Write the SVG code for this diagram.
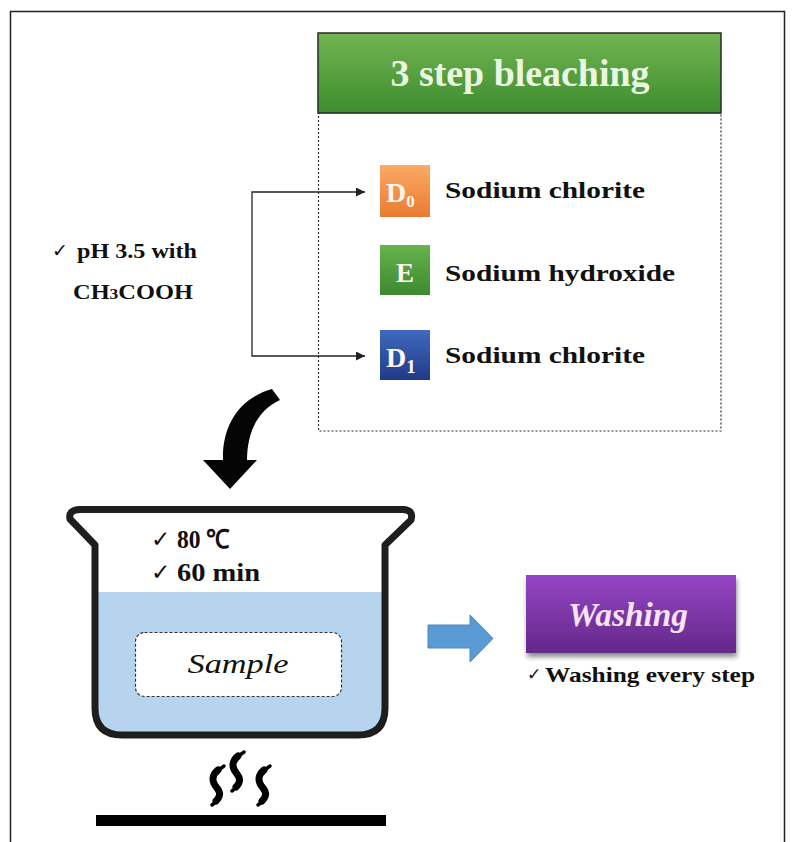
<svg xmlns="http://www.w3.org/2000/svg" width="793" height="842" viewBox="0 0 793 842">
  <style>
    .serif { font-family: "Liberation Serif", "Times New Roman", serif; }
    .bold { font-weight: bold; }
    .lbl { font-family: "Liberation Serif", "Times New Roman", serif; font-weight: bold; fill: #111; }
    .chk { font-family: "DejaVu Sans", sans-serif; fill: #111; }
    .conn { fill: none; stroke: #222; stroke-width: 1.3; }
    .badgeTxt { font-family: "Liberation Serif", "Times New Roman", serif; font-weight: bold; fill: #fff6ee; }
  </style>
  <defs>
    <linearGradient id="gHead" x1="0" y1="0" x2="0" y2="1">
      <stop offset="0" stop-color="#72b452"/>
      <stop offset="1" stop-color="#3e8d2e"/>
    </linearGradient>
    <linearGradient id="gOrange" x1="0" y1="0" x2="0" y2="1">
      <stop offset="0" stop-color="#fbaa66"/>
      <stop offset="1" stop-color="#ea7a30"/>
    </linearGradient>
    <linearGradient id="gGreen" x1="0" y1="0" x2="0" y2="1">
      <stop offset="0" stop-color="#66b24c"/>
      <stop offset="1" stop-color="#3d8a2f"/>
    </linearGradient>
    <linearGradient id="gBlue" x1="0" y1="0" x2="0" y2="1">
      <stop offset="0" stop-color="#4169bd"/>
      <stop offset="1" stop-color="#1f3b88"/>
    </linearGradient>
    <linearGradient id="gPurple" x1="0" y1="0" x2="0" y2="1">
      <stop offset="0" stop-color="#9545c4"/>
      <stop offset="1" stop-color="#64288a"/>
    </linearGradient>
    <filter id="shadow" x="-10%" y="-10%" width="120%" height="140%">
      <feGaussianBlur in="SourceAlpha" stdDeviation="2.5"/>
      <feOffset dx="1" dy="4"/>
      <feComponentTransfer><feFuncA type="linear" slope="0.45"/></feComponentTransfer>
      <feMerge><feMergeNode/><feMergeNode in="SourceGraphic"/></feMerge>
    </filter>
    <marker id="tri" viewBox="0 0 10 10" refX="10" refY="5" markerWidth="9" markerHeight="9" markerUnits="userSpaceOnUse" orient="auto">
      <path d="M0 0 L10 5 L0 10 Z" fill="#222"/>
    </marker>
    <!-- one rising heat wave, tapered: thin full stroke plus a thick middle -->
    <g id="wave">
      <path d="M0 0 C-12 8 -13 15 -7 22 C-2 29 -5 34 -12 39" fill="none" stroke="#000" stroke-width="3.5" stroke-linecap="round"/>
      <path d="M-6 4 C-12 9 -13 15 -7 22 C-3 27 -4 31 -8 35" fill="none" stroke="#000" stroke-width="7" stroke-linecap="round"/>
    </g>
  </defs>

  <rect width="793" height="842" fill="#ffffff"/>

  <!-- outer frame -->
  <path d="M10.5 842 V11.5 H784.5 V842" fill="none" stroke="#222" stroke-width="1.5"/>

  <!-- bleaching panel -->
  <g id="bleaching">
    <rect x="318.5" y="113" width="402.5" height="318" fill="#fff" stroke="#333" stroke-width="1.2" stroke-dasharray="2 2"/>
    <rect x="318" y="33" width="403" height="80" fill="url(#gHead)" stroke="#2a2a2a" stroke-width="1.5"/>
    <text class="serif bold" x="520" y="86" font-size="38" fill="#eaf6e2" text-anchor="middle" textLength="259" lengthAdjust="spacingAndGlyphs">3 step bleaching</text>
  </g>

  <g id="step-d0">
    <rect x="380" y="165" width="50" height="52" fill="url(#gOrange)"/>
    <text class="badgeTxt" x="386" y="202" font-size="28">D<tspan font-size="17" dy="5">0</tspan></text>
    <text class="lbl" x="445" y="198" font-size="24" textLength="200" lengthAdjust="spacingAndGlyphs">Sodium chlorite</text>
  </g>

  <g id="step-e">
    <rect x="380" y="245" width="50" height="50" fill="url(#gGreen)"/>
    <text class="badgeTxt" x="405" y="282" font-size="27" text-anchor="middle">E</text>
    <text class="lbl" x="445" y="281" font-size="24" textLength="230" lengthAdjust="spacingAndGlyphs">Sodium hydroxide</text>
  </g>

  <g id="step-d1">
    <rect x="380" y="330" width="50" height="50" fill="url(#gBlue)"/>
    <text class="badgeTxt" x="386" y="367" font-size="28">D<tspan font-size="19" dy="6">1</tspan></text>
    <text class="lbl" x="445" y="363" font-size="24" textLength="200" lengthAdjust="spacingAndGlyphs">Sodium chlorite</text>
  </g>

  <g id="ph-note">
    <text class="chk" x="52" y="257" font-size="19">✓</text>
    <text class="lbl" x="77" y="258" font-size="21" textLength="120" lengthAdjust="spacingAndGlyphs">pH 3.5 with</text>
    <text class="lbl" x="73" y="299" font-size="21" textLength="120" lengthAdjust="spacingAndGlyphs">CH<tspan font-size="15">3</tspan>COOH</text>
  </g>

  <!-- connectors -->
  <g id="connectors">
    <path class="conn" d="M252 274 V192 H365" marker-end="url(#tri)"/>
    <path class="conn" d="M252 274 V356 H365" marker-end="url(#tri)"/>
    <!-- curved drop arrow into the beaker -->
    <path d="M272 389 C240 398 222 425 223 460 L203 460 L230 489 L257 460 L247 460 C247 432 258 410 280 400 Z" fill="#050505"/>
    <!-- arrow to washing -->
    <path d="M428 625 H470 V615 L493 638.5 L470 662 V648 H428 Z" fill="#5b9bd5" stroke="#4a86c0" stroke-width="1"/>
  </g>

  <!-- beaker -->
  <g id="beaker">
    <path d="M98 592 H382 V710 Q382 732 360 732 H120 Q98 732 98 710 Z" fill="#b7d4ef"/>
    <path d="M70 519 Q68 510 80 509.5 H403 Q414 510 411 520 L385 545 V708 Q385 735 358 735 H122 Q95 735 95 708 V545 Z" fill="none" stroke="#1e1e1e" stroke-width="7" stroke-linejoin="round"/>
    <text class="chk" x="151" y="547" font-size="23">✓</text>
    <text class="lbl" x="177" y="548" font-size="26" textLength="53" lengthAdjust="spacingAndGlyphs">80 ℃</text>
    <text class="chk" x="151" y="580" font-size="23">✓</text>
    <text class="lbl" x="177" y="581" font-size="26" textLength="83" lengthAdjust="spacingAndGlyphs">60 min</text>
  </g>

  <g id="sample">
    <rect x="135.5" y="632.5" width="206" height="64" rx="9" fill="#fff" stroke="#333" stroke-width="1.2" stroke-dasharray="3 2"/>
    <text class="serif" x="238" y="673" font-size="28" font-style="italic" fill="#111" text-anchor="middle" textLength="101" lengthAdjust="spacingAndGlyphs">Sample</text>
  </g>

  <!-- heat and hot plate -->
  <g id="heater">
    <use href="#wave" x="224" y="766"/>
    <use href="#wave" x="244" y="752"/>
    <use href="#wave" x="270" y="766"/>
    <rect x="96" y="815" width="290" height="11" fill="#000"/>
  </g>

  <g id="washing">
    <rect x="526" y="575" width="210" height="78" fill="url(#gPurple)" filter="url(#shadow)"/>
    <text class="serif bold" x="628" y="626" font-size="34" font-style="italic" fill="#f6e4f4" text-anchor="middle" textLength="120" lengthAdjust="spacingAndGlyphs">Washing</text>
    <text class="chk" x="527" y="680" font-size="17">✓</text>
    <text class="lbl" x="545" y="682" font-size="22" textLength="210" lengthAdjust="spacingAndGlyphs">Washing every step</text>
  </g>
</svg>
